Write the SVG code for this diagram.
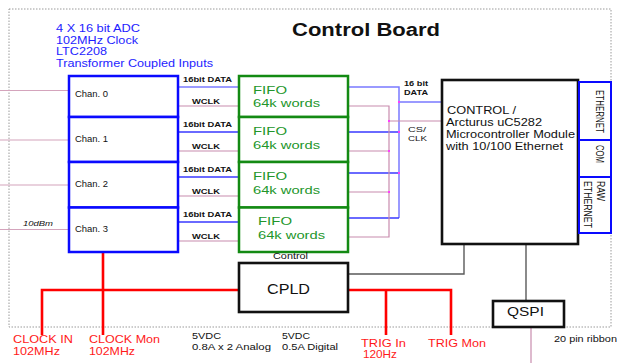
<svg xmlns="http://www.w3.org/2000/svg" width="619" height="363" viewBox="0 0 619 363">
<style>
text{font-family:"Liberation Sans",Arial,sans-serif}
.bl{fill:#1e1eff}
.gr{fill:#22962a}
.rd{fill:#ff1a1a}
.k{fill:#111}
.chan{fill:#fff;stroke:#0a0aff;stroke-width:2.5}
.fifo{fill:#fff;stroke:#138a13;stroke-width:2.5}
.blk{fill:#fff;stroke:#111;stroke-width:2.6}
.eth{fill:#fff;stroke:#0a0aff;stroke-width:2}
.data{stroke:#3a3aff;stroke-width:1.3;fill:none}
.ldata{stroke:#7a7aff;stroke-width:1.5;fill:none}
.clk{stroke:#c88cae;stroke-width:1.2;fill:none}
.inp{stroke:#d4a4bc;stroke-width:1.2;fill:none}
.gry{stroke:#5a5a5a;stroke-width:1.4;fill:none}
.red{stroke:#ff0000;stroke-width:2.6;fill:none}
.dot{fill:#ff3cff}
.sm{font-size:8.5px}
.lb{font-size:7.5px;font-weight:bold}
</style>
<rect x="9" y="9" width="602" height="318" fill="none" stroke="#9a9a9a" stroke-width="1" stroke-dasharray="1.5 1.5"/>
<text x="292" y="36" font-size="18" font-weight="bold" class="k" textLength="148" lengthAdjust="spacingAndGlyphs">Control Board</text>
<g id="adc-desc" font-size="10.5">
<text class="bl" x="56" y="32" textLength="84" lengthAdjust="spacingAndGlyphs">4 X 16 bit ADC</text>
<text class="bl" x="56" y="43.5" textLength="82" lengthAdjust="spacingAndGlyphs">102MHz Clock</text>
<text class="bl" x="56" y="55" textLength="51" lengthAdjust="spacingAndGlyphs">LTC2208</text>
<text class="bl" x="56" y="67" textLength="157" lengthAdjust="spacingAndGlyphs">Transformer Coupled Inputs</text>
</g>
<g id="connectors">
<path class="inp" d="M0 90.5H69M0 140H69M0 185H69M0 229.5H69"/>
<path class="ldata" d="M178 87H238"/>
<path class="data" d="M178 132H238M178 177H238M178 222H238"/>
<path class="clk" d="M178 106H238M178 151H238M178 196H238M178 241H238"/>
<path class="ldata" d="M348 87H399V218M399 102H442"/>
<path class="data" d="M348 132H399M348 173H399M348 218H399"/>
<path class="clk" d="M348 106H389V237H348M348 151H389M348 192H389M389 121H442"/>
<g class="dot">
<rect x="398" y="101" width="2" height="2"/><rect x="388" y="120" width="2" height="2"/>
<rect x="398" y="131" width="2" height="2"/><rect x="388" y="150" width="2" height="2"/>
<rect x="398" y="172" width="2" height="2"/><rect x="388" y="191" width="2" height="2"/>
</g>
<path class="gry" d="M464 244V274H348M526 244V301"/>
<path class="clk" d="M531 327V363"/>
<path class="red" d="M42 335V290H239M103 252V335M348 290H451V335M386 290V335"/>
</g>
<g id="chan0"><rect class="chan" x="69" y="76" width="109" height="41"/><text class="k sm" x="75" y="97" textLength="33" lengthAdjust="spacingAndGlyphs">Chan. 0</text></g>
<g id="chan1"><rect class="chan" x="69" y="117" width="109" height="45"/><text class="k sm" x="75" y="142" textLength="33" lengthAdjust="spacingAndGlyphs">Chan. 1</text></g>
<g id="chan2"><rect class="chan" x="69" y="162" width="109" height="45.5"/><text class="k sm" x="75" y="187" textLength="33" lengthAdjust="spacingAndGlyphs">Chan. 2</text></g>
<g id="chan3"><rect class="chan" x="69" y="207.5" width="109" height="44.5"/><text class="k sm" x="75" y="232" textLength="33" lengthAdjust="spacingAndGlyphs">Chan. 3</text></g>
<text class="k" x="23" y="226" font-size="8" font-style="italic" textLength="30" lengthAdjust="spacingAndGlyphs">10dBm</text>
<g id="link-labels" class="k lb">
<text x="183" y="82" textLength="49" lengthAdjust="spacingAndGlyphs">16bit DATA</text>
<text x="192" y="104" textLength="28" lengthAdjust="spacingAndGlyphs">WCLK</text>
<text x="183" y="127" textLength="49" lengthAdjust="spacingAndGlyphs">16bit DATA</text>
<text x="192" y="149" textLength="28" lengthAdjust="spacingAndGlyphs">WCLK</text>
<text x="183" y="172" textLength="49" lengthAdjust="spacingAndGlyphs">16bit DATA</text>
<text x="192" y="194" textLength="28" lengthAdjust="spacingAndGlyphs">WCLK</text>
<text x="183" y="217" textLength="49" lengthAdjust="spacingAndGlyphs">16bit DATA</text>
<text x="192" y="239" textLength="28" lengthAdjust="spacingAndGlyphs">WCLK</text>
<text x="404" y="86" textLength="24" lengthAdjust="spacingAndGlyphs">16 bit</text>
<text x="404" y="95" textLength="24" lengthAdjust="spacingAndGlyphs">DATA</text>
<text x="408" y="132" textLength="18" lengthAdjust="spacingAndGlyphs" font-weight="normal" font-size="8">CS/</text>
<text x="408" y="141" textLength="19" lengthAdjust="spacingAndGlyphs" font-weight="normal" font-size="8">CLK</text>
</g>
<g id="fifo0"><rect class="fifo" x="239" y="76" width="109" height="41"/><text class="gr" font-size="11.5" x="253" y="93.5" textLength="34" lengthAdjust="spacingAndGlyphs">FIFO</text><text class="gr" font-size="11.5" x="253" y="107" textLength="67" lengthAdjust="spacingAndGlyphs">64k words</text></g>
<g id="fifo1"><rect class="fifo" x="239" y="117" width="109" height="45"/><text class="gr" font-size="11.5" x="253" y="135" textLength="34" lengthAdjust="spacingAndGlyphs">FIFO</text><text class="gr" font-size="11.5" x="253" y="148.5" textLength="67" lengthAdjust="spacingAndGlyphs">64k words</text></g>
<g id="fifo2"><rect class="fifo" x="239" y="162" width="109" height="45.5"/><text class="gr" font-size="11.5" x="253" y="180" textLength="34" lengthAdjust="spacingAndGlyphs">FIFO</text><text class="gr" font-size="11.5" x="253" y="193.5" textLength="67" lengthAdjust="spacingAndGlyphs">64k words</text></g>
<g id="fifo3"><rect class="fifo" x="239" y="207.5" width="109" height="44.5"/><text class="gr" font-size="11.5" x="258" y="225" textLength="34" lengthAdjust="spacingAndGlyphs">FIFO</text><text class="gr" font-size="11.5" x="258" y="238.5" textLength="67" lengthAdjust="spacingAndGlyphs">64k words</text></g>
<g id="control"><rect class="blk" x="442" y="80" width="136" height="164"/>
<g class="k" font-size="10.5">
<text x="447" y="114" textLength="69" lengthAdjust="spacingAndGlyphs">CONTROL /</text>
<text x="446" y="126" textLength="96" lengthAdjust="spacingAndGlyphs">Arcturus uC5282</text>
<text x="446" y="138" textLength="129" lengthAdjust="spacingAndGlyphs">Microcontroller Module</text>
<text x="446" y="149.5" textLength="117" lengthAdjust="spacingAndGlyphs">with 10/100 Ethernet</text>
</g></g>
<g id="ethernet"><rect class="eth" x="579" y="82" width="32" height="58"/><text class="k" font-size="10" transform="translate(596 90) rotate(90)" textLength="43" lengthAdjust="spacingAndGlyphs">ETHERNET</text></g>
<g id="com"><rect class="eth" x="579" y="140" width="32" height="37"/><text class="k" font-size="10" transform="translate(596 145) rotate(90)" textLength="18" lengthAdjust="spacingAndGlyphs">COM</text></g>
<g id="raw-ethernet"><rect class="eth" x="579" y="177" width="32" height="56"/><text class="k" font-size="10" transform="translate(597 181) rotate(90)" textLength="20" lengthAdjust="spacingAndGlyphs">RAW</text><text class="k" font-size="10" transform="translate(584 181) rotate(90)" textLength="47" lengthAdjust="spacingAndGlyphs">ETHERNET</text></g>
<text class="k" x="273" y="259" font-size="8.5" textLength="35" lengthAdjust="spacingAndGlyphs">Control</text>
<g id="cpld"><rect class="blk" x="239" y="263" width="109" height="49"/><text class="k" x="267" y="294" font-size="14" textLength="43" lengthAdjust="spacingAndGlyphs">CPLD</text></g>
<g id="qspi"><rect class="blk" x="493" y="301" width="71" height="26"/><text class="k" x="507" y="316" font-size="12.5" textLength="37" lengthAdjust="spacingAndGlyphs">QSPI</text></g>
<text class="k" x="554" y="342" font-size="9" textLength="63" lengthAdjust="spacingAndGlyphs">20 pin ribbon</text>
<g id="io-labels" font-size="11">
<text class="rd" x="13" y="343" textLength="60" lengthAdjust="spacingAndGlyphs">CLOCK IN</text>
<text class="rd" x="13" y="355" textLength="47" lengthAdjust="spacingAndGlyphs">102MHz</text>
<text class="rd" x="89" y="343" textLength="71" lengthAdjust="spacingAndGlyphs">CLOCK Mon</text>
<text class="rd" x="89" y="355" textLength="46" lengthAdjust="spacingAndGlyphs">102MHz</text>
<text class="rd" x="361" y="347" textLength="45" lengthAdjust="spacingAndGlyphs">TRIG In</text>
<text class="rd" x="363" y="358" textLength="34" lengthAdjust="spacingAndGlyphs">120Hz</text>
<text class="rd" x="428" y="347" textLength="58" lengthAdjust="spacingAndGlyphs">TRIG Mon</text>
</g>
<g id="power" class="k" font-size="8.5">
<text x="192" y="339" textLength="29" lengthAdjust="spacingAndGlyphs">5VDC</text>
<text x="192" y="350" textLength="79" lengthAdjust="spacingAndGlyphs">0.8A x 2 Analog</text>
<text x="282" y="339" textLength="28" lengthAdjust="spacingAndGlyphs">5VDC</text>
<text x="282" y="350" textLength="56" lengthAdjust="spacingAndGlyphs">0.5A Digital</text>
</g>
</svg>
